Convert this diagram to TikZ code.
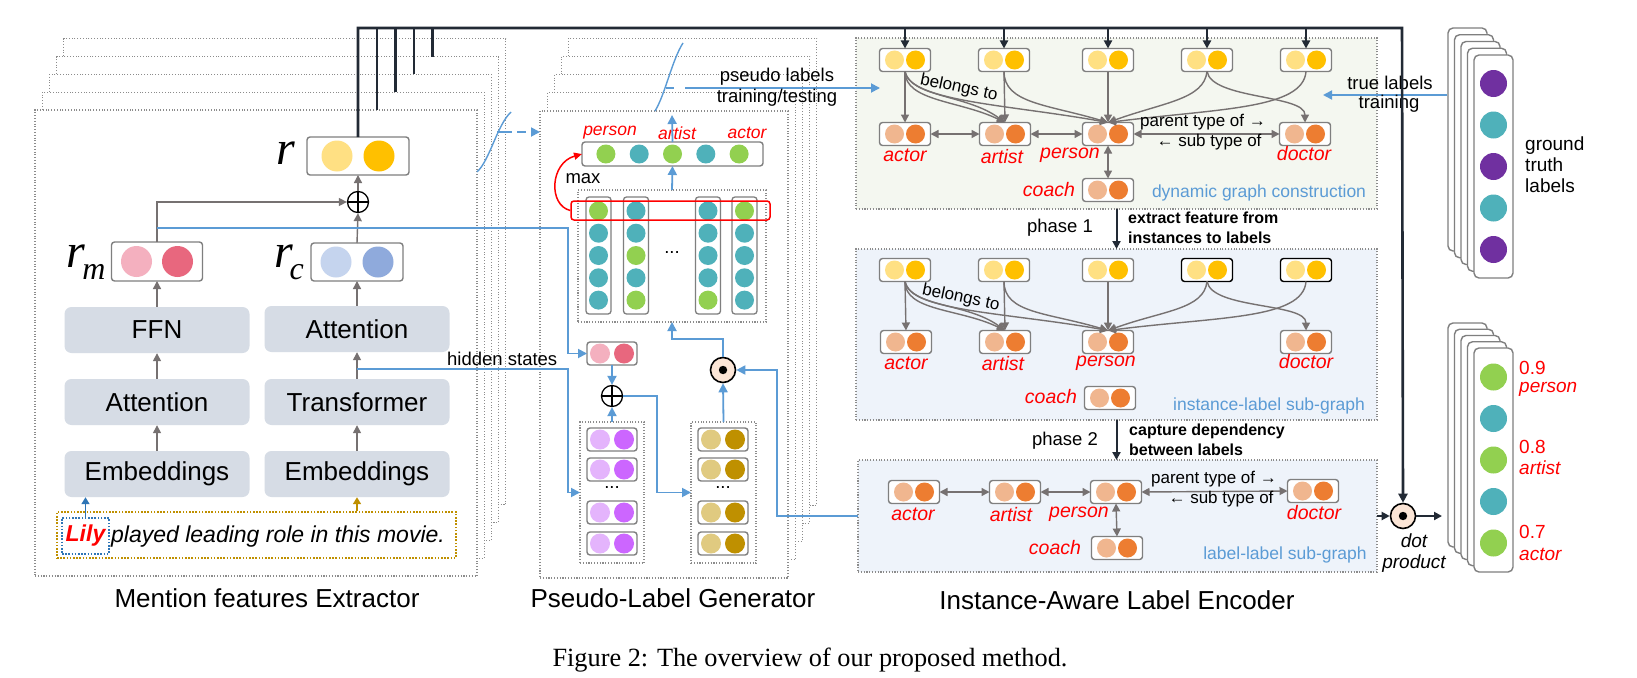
\documentclass[tikz,border=0pt]{standalone}
\usepackage{fontspec}
\setmainfont{Liberation Sans}
\newfontfamily\capfont{Liberation Serif}
\usetikzlibrary{arrows.meta,calc}
\definecolor{cBoxGray}{HTML}{7F7F7F}
\definecolor{cArr}{HTML}{767171}
\definecolor{cLayer}{HTML}{D6DCE5}
\definecolor{cBlue}{HTML}{5B9BD5}
\definecolor{cBlueD}{HTML}{2E75B6}
\definecolor{cDark}{HTML}{222A35}
\definecolor{cYl}{HTML}{FFE083}
\definecolor{cYd}{HTML}{FFC000}
\definecolor{cOl}{HTML}{F0B68F}
\definecolor{cOd}{HTML}{ED7D31}
\definecolor{cGr}{HTML}{92D050}
\definecolor{cTl}{HTML}{4FB1BA}
\definecolor{cPkL}{HTML}{F4B0BF}
\definecolor{cPkD}{HTML}{E8677E}
\definecolor{cBlL}{HTML}{C5D4EE}
\definecolor{cBlD}{HTML}{8FAADC}
\definecolor{cPpL}{HTML}{E4B4FC}
\definecolor{cPpD}{HTML}{CC66FF}
\definecolor{cGdL}{HTML}{E0CA80}
\definecolor{cGdD}{HTML}{BF9000}
\definecolor{cVio}{HTML}{7030A0}
\definecolor{cPeach}{HTML}{FBE5D6}
\definecolor{cDyn}{HTML}{F4F7F0}
\definecolor{cSub}{HTML}{EEF3FA}
\definecolor{cFrame}{HTML}{8C8C8C}
\tikzset{
 pairbox/.style={draw=cBoxGray, line width=1.4pt, rounded corners=3pt, fill=white, minimum width=51pt, minimum height=23pt, inner sep=0pt, outer sep=0pt},
 layerbox/.style={fill=cLayer, rounded corners=7pt, minimum width=185pt, minimum height=46pt, inner sep=0pt, font=\fontsize{26}{28}\selectfont},
 dotframe/.style={draw=cFrame, line width=1.1pt, dash pattern=on 1.1pt off 1.7pt, inner sep=0pt, outer sep=0pt},
 stackframe/.style={dotframe, fill=white},
 garrow/.style={draw=cArr, line width=1.4pt, -{Triangle[length=8pt,width=8pt]}},
 gbiarrow/.style={draw=cArr, line width=1.4pt, {Triangle[length=8pt,width=8pt]}-{Triangle[length=8pt,width=8pt]}},
 barrow/.style={draw=cBlue, line width=1.8pt, -{Triangle[length=9pt,width=9pt]}},
 bline/.style={draw=cBlue, line width=1.6pt},
 darrow/.style={draw=cDark, line width=2pt, -{Triangle[length=8pt,width=8pt]}},
 topbar/.style={draw=cDark, line width=2.6pt},
 redlab/.style={text=red, font=\fontsize{19.5}{20}\selectfont\itshape, inner sep=0pt},
 vlab/.style={text=red, font=\fontsize{17.5}{18}\selectfont\itshape, inner sep=0pt},
 txt/.style={font=\fontsize{18.5}{20}\selectfont, inner sep=0pt},
 reltxt/.style={font=\fontsize{17}{18}\selectfont, inner sep=0pt},
 bluetxt/.style={text=cBlue, font=\fontsize{17.5}{19}\selectfont, inner sep=0pt},
 boldtxt/.style={font=\fontsize{16}{19}\selectfont\bfseries, inner sep=0pt, anchor=west},
 secttitle/.style={font=\fontsize{26}{28}\selectfont, inner sep=0pt},
 stackbox/.style={draw=cBoxGray, line width=1.4pt, rounded corners=5pt, fill=white, minimum width=39pt, minimum height=223pt, inner sep=0pt},
 colbox/.style={draw=cBoxGray, line width=1.3pt, rounded corners=3pt, minimum width=25pt, minimum height=117pt, inner sep=0pt},
 opcircle/.style={circle, draw=black, line width=1.3pt, fill=white, minimum size=21pt, inner sep=0pt},
 dotcircle/.style={circle, draw=black, line width=1.6pt, fill=cPeach, minimum size=25pt, inner sep=0pt},
}
\newcommand\pairnode[8][]{%
  \node[pairbox,#1] (#2) at (#3,#4) {};
  \fill[#5] ([xshift=-#7pt]#2.center) circle (#8pt);
  \fill[#6] ([xshift=#7pt]#2.center) circle (#8pt);
}
\newcommand\gnode[6][]{\pairnode[#1]{#2}{#3}{#4}{#5}{#6}{10.5}{9.5}}
\newcommand\instedges[1]{%
 \draw[garrow] (#1T1.south) -- (#1A.north);
 \draw[garrow] (#1T1.south) .. controls +(0,30) and +(-45,-22) .. (#1R.north);
 \draw[garrow] (#1T1.south) .. controls +(6,26) and +(-38,-28) .. (#1R.north);
 \draw[garrow] (#1T1.south) .. controls +(5,30) and +(-100,-18) .. (#1P.north);
 \draw[garrow] (#1T2.south) -- (#1R.north);
 \draw[garrow] (#1T2.south) .. controls +(0,32) and +(-60,-18) .. (#1P.north);
 \draw[garrow] (#1T3.south) -- (#1P.north);
 \draw[garrow] (#1T4.south) .. controls +(-3,28) and +(55,-20) .. (#1P.north);
 \draw[garrow] (#1T4.south) .. controls +(5,28) and +(0,-28) .. (#1D.north);
 \draw[garrow] (#1T5.south) .. controls +(-3,38) and +(110,-14) .. (#1P.north);
}
\begin{document}
\begin{tikzpicture}[x=1pt,y=-1pt]
\useasboundingbox (0,0) rectangle (1637,677);
\fill[white] (0,0) rectangle (1637,677);

% ---------- stacked frames ----------
\foreach \k in {4,3,2,1,0}{\node[stackframe, minimum width=442pt, minimum height=466pt] (lf\k) at ({256+7.2*\k},{343-17.8*\k}) {};}
\foreach \k in {4,3,2,1,0}{\node[stackframe, minimum width=248pt, minimum height=467pt] (mf\k) at ({664+7.2*\k},{344.5-18.2*\k}) {};}

% ---------- graph frames ----------
\node[dotframe, fill=cDyn, minimum width=521pt, minimum height=171pt] (dyn) at (1116.5,123.5) {};
\node[dotframe, fill=cSub, minimum width=521pt, minimum height=171pt] (inst) at (1116.5,334.5) {};
\node[dotframe, fill=cSub, minimum width=519pt, minimum height=112pt] (ll) at (1117.5,516) {};

% ---------- mention feature extractor ----------
\node[layerbox] (ffn) at (157,330) {FFN};
\node[layerbox] (att1) at (157,402) {Attention};
\node[layerbox] (emb1) at (157,474) {Embeddings};
\node[layerbox] (att2) at (357,329) {Attention};
\node[layerbox] (trans) at (357,402) {Transformer};
\node[layerbox] (emb2) at (357,474) {Embeddings};
\pairnode[minimum width=91pt,minimum height=39pt]{rm}{157}{261.5}{cPkL}{cPkD}{20.5}{15.5}
\pairnode[minimum width=92pt,minimum height=38pt]{rc}{357}{262}{cBlL}{cBlD}{21}{15.5}
\pairnode[minimum width=102pt,minimum height=38pt]{r}{358}{156}{cYl}{cYd}{21}{15.5}
\node[opcircle] (plusA) at (358,202) {};
\draw[line width=1.2pt] (plusA.north) -- (plusA.south) (plusA.west) -- (plusA.east);
\node[inner sep=0pt, font=\capfont\fontsize{48}{48}\selectfont\itshape] (rlab) at (286,153) {r};
\node[inner sep=0pt, font=\capfont\fontsize{48}{48}\selectfont\itshape] (rmlab) at (86,262) {r\kern-3pt\raisebox{-12pt}{\fontsize{32}{32}\selectfont m}};
\node[inner sep=0pt, font=\capfont\fontsize{48}{48}\selectfont\itshape] (rclab) at (289,262) {r\kern-3pt\raisebox{-12pt}{\fontsize{32}{32}\selectfont c}};

\draw[garrow] (emb1.north) -- (att1.south);
\draw[garrow] (att1.north) -- (ffn.south);
\draw[garrow] (ffn.north) -- (rm.south);
\draw[garrow] (emb2.north) -- (trans.south);
\draw[garrow] (trans.north) -- (att2.south);
\draw[garrow] (att2.north) -- (rc.south);
\draw[garrow] (rc.north) -- (plusA.south);
\draw[garrow] (plusA.north) -- (r.south);
\draw[garrow] (rm.north) |- (plusA.west);

\node[draw=cGdD, line width=1.6pt, dash pattern=on 1.6pt off 1.6pt, minimum width=399pt, minimum height=46pt, inner sep=0pt] (sent) at (256.5,535) {};
\node[draw=cBlueD, line width=1.6pt, dash pattern=on 1.6pt off 1.6pt, minimum width=47pt, minimum height=36pt, inner sep=0pt, text=red, font=\fontsize{23}{25}\selectfont\bfseries\itshape] (lily) at (85.5,536) {Lily};
\node[anchor=west, inner sep=0pt, font=\fontsize{23}{25}\selectfont\itshape] (senttext) at (111,537) {played leading role in this movie.};
\draw[barrow, draw=cBlueD, line width=1.6pt, -{Triangle[length=7pt,width=8pt]}] (lily.north) -- (lily.north |- emb1.south);
\draw[garrow, draw=cGdD, line width=1.6pt, -{Triangle[length=7pt,width=8pt]}] (emb2.south |- sent.north) -- (emb2.south);
\node[secttitle] (t1) at (267,598) {Mention features Extractor};

% ---------- pseudo label generator ----------
\node[dotframe, minimum width=188pt, minimum height=132pt] (mat) at (672,256) {};
\foreach \x/\n in {598.5/1,636/2,708/3,744.5/4}{\node[colbox] (col\n) at (\x,255.5) {};}
\foreach \c [count=\i] in {cGr,cTl,cTl,cTl,cTl}{\fill[\c] (col1.center) ++(0,{(\i-3)*22.3}) circle (9.5pt);}
\foreach \c [count=\i] in {cTl,cTl,cGr,cTl,cGr}{\fill[\c] (col2.center) ++(0,{(\i-3)*22.3}) circle (9.5pt);}
\foreach \c [count=\i] in {cTl,cTl,cTl,cTl,cGr}{\fill[\c] (col3.center) ++(0,{(\i-3)*22.3}) circle (9.5pt);}
\foreach \c [count=\i] in {cGr,cTl,cTl,cTl,cTl}{\fill[\c] (col4.center) ++(0,{(\i-3)*22.3}) circle (9.5pt);}
\node[txt] (mdots) at (672,253) {...};
\node[draw=red, line width=1.5pt, rounded corners=3pt, minimum width=199pt, minimum height=19pt, inner sep=0pt] (redbox) at (670.5,210.5) {};
\node[pairbox, minimum width=181pt, minimum height=24pt] (lvec) at (672.5,154) {};
\foreach \c [count=\i] in {cGr,cTl,cGr,cTl,cGr}{\fill[\c] (lvec.center) ++({(\i-3)*33.3},0) circle (9.5pt);}
\node[vlab] (lpers) at (610,133) {person};
\node[vlab] (lart) at (677,133) {artist};
\node[vlab] (lact) at (747,133) {actor};
\node[txt] (maxt) at (583,179) {max};
\draw[red, line width=1.5pt, -{Triangle[length=8pt,width=7pt]}] (redbox.west) .. controls (548,205) and (550,163) .. (lvec.west);
\draw[barrow] (mat.north) -- (lvec.south);
\coordinate (pltop) at (672,115);
\draw[barrow] (lvec.north) -- (pltop);

\pairnode[minimum width=50pt]{pink}{612}{353.5}{cPkL}{cPkD}{12}{10}
\node[opcircle, draw=black] (plusB) at (612,396) {};
\draw[line width=1.2pt] (plusB.north) -- (plusB.south) (plusB.west) -- (plusB.east);
\node[dotframe, minimum width=64pt, minimum height=141pt] (pstack) at (612,492.5) {};
\node[dotframe, minimum width=65pt, minimum height=141pt] (gstack) at (723.5,492.5) {};
\foreach \y [count=\i] in {439.5,469.5,512.5,543.5}{%
  \pairnode[minimum width=50pt]{pp\i}{612}{\y}{cPpL}{cPpD}{12}{10}
  \pairnode[minimum width=50pt]{gg\i}{723}{\y}{cGdL}{cGdD}{12}{10}
}
\node[txt] (pdots) at (612,488) {...};
\node[txt] (gdots) at (723,488) {...};
\node[dotcircle] (odot) at (723,370) {};
\fill (odot.center) circle (4.2pt);

\coordinate (rmtap) at (157,228);
\coordinate (hstap) at (357,369);
\draw[barrow] (rmtap) -- (568,228) |- (pink.west);
\draw[barrow] (hstap) -- (568,369) |- (pstack.west);
\node[txt, anchor=west] (hst) at (447,359) {hidden states};
\draw[barrow] (pink.south) -- (plusB.north);
\draw[barrow] (pstack.north) -- (plusB.south);
\draw[barrow] (plusB.east) -- (657,396) |- (gstack.west);
\draw[barrow] (gstack.north) -- (odot.south);
\draw[barrow] (odot.north) -- (723,339) -| (mat.south);
\draw[barrow] (ll.west) -- (777,516) |- (odot.east);
\node[secttitle] (t2) at (673,598) {Pseudo-Label Generator};

% cut marks
\coordinate (cutL) at (503,132);
\draw[barrow, dash pattern=on 9pt off 5pt] (cutL) -- (mf0.west |- cutL);
\draw[cBlue, line width=1.4pt] (477,172) .. controls (490,160) and (497,125) .. (511,112);
\draw[cBlue, line width=1.4pt] (497,132) -- (503,132);
\draw[cBlue, line width=1.4pt] (655,111) .. controls (665,95) and (672,60) .. (683,43);
\draw[cBlue, line width=1.4pt] (666,88) -- (674,88);
\coordinate (plstart) at (685,88);
\coordinate (plend) at (880,88);
\draw[barrow] (plstart) -- (plend);
\node[txt] (pl1) at (777,77) {pseudo labels};
\node[txt] (pl2) at (777,98) {training/testing};

% ---------- dynamic graph ----------
\gnode{dT1}{905}{60}{cYl}{cYd}
\gnode{dT2}{1004}{60}{cYl}{cYd}
\gnode{dT3}{1108}{60}{cYl}{cYd}
\gnode{dT4}{1207}{60}{cYl}{cYd}
\gnode{dT5}{1306}{60}{cYl}{cYd}
\gnode{dA}{905}{134}{cOl}{cOd}
\gnode{dR}{1005}{134}{cOl}{cOd}
\gnode{dP}{1108}{134}{cOl}{cOd}
\gnode{dD}{1305}{134}{cOl}{cOd}
\gnode{dC}{1108}{190}{cOl}{cOd}
\instedges{d}
\draw[gbiarrow] (dA.east) -- (dR.west);
\draw[gbiarrow] (dR.east) -- (dP.west);
\draw[gbiarrow] (dP.east) -- (dD.west);
\draw[gbiarrow] (dP.south) -- (dC.north);
\node[reltxt, rotate=-12] (dbel) at (959,88) {belongs to};
\node[reltxt] (dpar) at (1203,122) {parent type of →};
\node[reltxt] (dsub) at (1209,142) {← sub type of};
\node[redlab] (dlA) at (905,155) {actor};
\node[redlab] (dlR) at (1002,157) {artist};
\node[redlab] (dlP) at (1070,155) {person};
\node[redlab] (dlD) at (1304,154) {doctor};
\node[redlab] (dlC) at (1049,190) {coach};
\node[bluetxt] (dname) at (1259,193) {dynamic graph construction};

% ---------- instance-label sub-graph ----------
\gnode{iT1}{905}{270}{cYl}{cYd}
\gnode{iT2}{1004}{270}{cYl}{cYd}
\gnode{iT3}{1108}{270}{cYl}{cYd}
\gnode[draw=black]{iT4}{1207}{270}{cYl}{cYd}
\gnode[draw=black]{iT5}{1306}{270}{cYl}{cYd}
\gnode{iA}{906}{342}{cOl}{cOd}
\gnode{iR}{1005}{342}{cOl}{cOd}
\gnode{iP}{1108}{342}{cOl}{cOd}
\gnode{iD}{1306}{342}{cOl}{cOd}
\gnode{iC}{1110}{398}{cOl}{cOd}
\instedges{i}
\node[reltxt, rotate=-12] (ibel) at (961,298) {belongs to};
\node[redlab] (ilA) at (906,363) {actor};
\node[redlab] (ilR) at (1003,364) {artist};
\node[redlab] (ilP) at (1106,363) {person};
\node[redlab] (ilD) at (1306,362) {doctor};
\node[redlab] (ilC) at (1051,397) {coach};
\node[bluetxt] (iname) at (1269,406) {instance-label sub-graph};

% ---------- label-label sub-graph ----------
\gnode{lA}{914}{492}{cOl}{cOd}
\gnode{lR}{1015}{492}{cOl}{cOd}
\gnode{lP}{1116}{492}{cOl}{cOd}
\gnode{lD}{1313}{491}{cOl}{cOd}
\gnode{lC}{1117}{548}{cOl}{cOd}
\draw[gbiarrow] (lA.east) -- (lR.west);
\draw[gbiarrow] (lR.east) -- (lP.west);
\draw[gbiarrow] (lP.east) -- (lD.west);
\draw[gbiarrow] (lP.south) -- (lC.north);
\node[reltxt] (lpar) at (1214,479) {parent type of →};
\node[reltxt] (lsub) at (1221,499) {← sub type of};
\node[redlab] (llA) at (913,514) {actor};
\node[redlab] (llR) at (1011,515) {artist};
\node[redlab] (llP) at (1079,514) {person};
\node[redlab] (llD) at (1314,513) {doctor};
\node[redlab] (llC) at (1055,548) {coach};
\node[bluetxt] (lname) at (1285,555) {label-label sub-graph};

% phases
\draw[darrow] (dyn.south) -- (inst.north);
\draw[darrow] (inst.south) -- (inst.south |- ll.north);
\node[txt] (ph1) at (1060,228) {phase 1};
\node[boldtxt] (ph1a) at (1128,218) {extract feature from};
\node[boldtxt] (ph1b) at (1128,238) {instances to labels};
\node[txt] (ph2) at (1065,441) {phase 2};
\node[boldtxt] (ph2a) at (1129,431) {capture dependency};
\node[boldtxt] (ph2b) at (1129,450) {between labels};
\node[secttitle] (t3) at (1117,600) {Instance-Aware Label Encoder};

% ---------- right stacks ----------
\foreach \k in {0,...,4}{\node[stackbox] (gt\k) at ({1467.5+6.5*\k},{139.5+6.75*\k}) {};}
\foreach \c [count=\i] in {cVio,cTl,cVio,cTl,cVio}{\fill[\c] (gt4.center) ++(0,{(\i-3)*41.5}) circle (13.5pt);}
\node[txt, align=left, anchor=west, font=\fontsize{19}{21}\selectfont] (gtl) at (1525,165) {ground\\truth\\labels};
\coordinate (tltip) at (1323,95);
\draw[barrow] (gt0.west |- tltip) -- (tltip);
\node[txt] (tl1) at (1390,83) {true labels};
\node[txt] (tl2) at (1389,104) {training};

\foreach \k in {0,...,4}{\node[stackbox, minimum height=224pt] (out\k) at ({1467.5+6.5*\k},{435+6.25*\k}) {};}
\foreach \c [count=\i] in {cGr,cTl,cGr,cTl,cGr}{\fill[\c] (out4.center) ++(0,{(\i-3)*41.5}) circle (13.5pt);}
\node[inner sep=0pt, anchor=west, text=red, font=\fontsize{19}{20}\selectfont] (o1) at (1519,368) {0.9};
\node[redlab, anchor=west, font=\fontsize{19}{20}\selectfont\itshape] (o1b) at (1519,389) {person};
\node[inner sep=0pt, anchor=west, text=red, font=\fontsize{19}{20}\selectfont] (o2) at (1519,447) {0.8};
\node[redlab, anchor=west, font=\fontsize{19}{20}\selectfont\itshape] (o2b) at (1519,468) {artist};
\node[inner sep=0pt, anchor=west, text=red, font=\fontsize{19}{20}\selectfont] (o3) at (1519,532) {0.7};
\node[redlab, anchor=west, font=\fontsize{19}{20}\selectfont\itshape] (o3b) at (1519,554) {actor};

% ---------- dot product and top bar ----------
\node[dotcircle] (dotp) at (1403,516) {};
\fill (dotp.center) circle (4.2pt);
\node[inner sep=0pt, font=\fontsize{19}{21}\selectfont\itshape, align=center] (dptxt) at (1414,553) {dot\\product};
\draw[darrow] (ll.east) -- (dotp.west);
\coordinate (outtip) at (1442,516);
\draw[darrow] (dotp.east) -- (outtip);

\coordinate (barL) at (358,28);
\coordinate (barR) at (1402,28);
\draw[topbar, -{Triangle[length=9pt,width=9pt]}] (r.north) -- (barL) -- (barR) -- (dotp.north);
\foreach \k in {0,...,3}{\draw[topbar] ({377+18.4*\k},28) -- ({377+18.4*\k},28 |- lf\k.north);}
\foreach \n in {1,...,5}{\draw[darrow] (dT\n.north |- barL) -- (dT\n.north);}

% caption
\node[inner sep=0pt, font=\capfont\fontsize{26.3}{30}\selectfont] (cap) at (810,660) {Figure 2: The overview of our proposed method.};
\end{tikzpicture}
\end{document}
